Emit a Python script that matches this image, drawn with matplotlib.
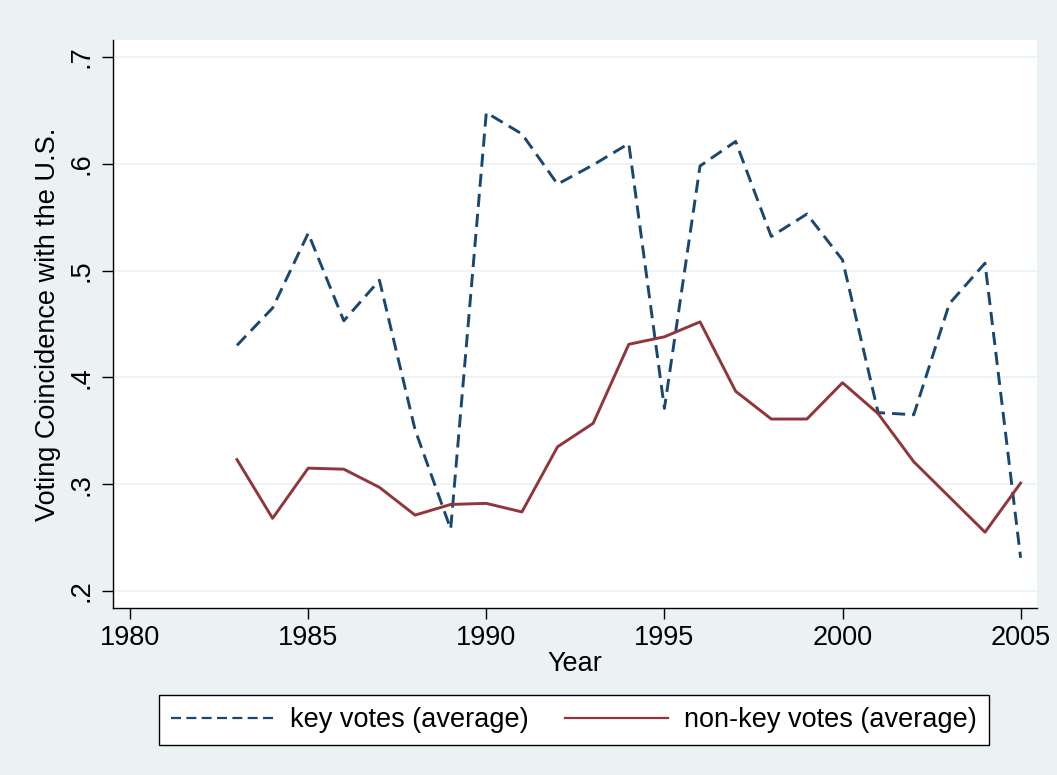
import matplotlib
matplotlib.use("Agg")
import matplotlib.pyplot as plt

# valeurs
years = list(range(1983, 2006))
key_votes = [0.430, 0.465, 0.535, 0.453, 0.491, 0.351, 0.258, 0.648, 0.628, 0.581,
             0.599, 0.619, 0.371, 0.598, 0.621, 0.532, 0.553, 0.510, 0.367, 0.365,
             0.469, 0.507, 0.231]
nonkey_votes = [0.323, 0.268, 0.315, 0.314, 0.297, 0.271, 0.281, 0.282, 0.274, 0.335,
                0.357, 0.431, 0.438, 0.452, 0.387, 0.361, 0.361, 0.395, 0.366, 0.321,
                0.288, 0.255, 0.301]
xticks = [1980, 1985, 1990, 1995, 2000, 2005]
yticks = [0.2, 0.3, 0.4, 0.5, 0.6, 0.7]
ytick_labels = [".2", ".3", ".4", ".5", ".6", ".7"]

plt.rcParams["font.family"] = ["Liberation Sans", "DejaVu Sans"]

bg = "#EAF2F3"
navy = "#1A476F"
maroon = "#90353B"
fs = 19.5

fig = plt.figure(figsize=(10.57, 7.75), dpi=100, facecolor=bg)
ax = fig.add_axes([113 / 1057, 1 - 608 / 775, (1037 - 113) / 1057, (608 - 40) / 775])
ax.set_facecolor("white")

ax.plot(years, key_votes, color=navy, lw=2.1, dashes=(4.5, 2.4), label="key votes (average)")
ax.plot(years, nonkey_votes, color=maroon, lw=2.1, label="non-key votes (average)")

ax.set_xlim(1979.52, 2005.46)
ax.set_ylim(0.184, 0.716)
ax.set_xticks(xticks)
ax.set_yticks(yticks)
ax.set_yticklabels(ytick_labels, rotation=90, va="center")
ax.tick_params(axis="both", labelsize=fs, length=8, width=1, direction="out")
ax.tick_params(axis="y", pad=5)
ax.tick_params(axis="x", pad=4)

ax.grid(axis="y", color=bg, lw=1.2)
ax.set_axisbelow(True)
for s in ["top", "right"]:
    ax.spines[s].set_visible(False)
ax.spines["left"].set_linewidth(1)
ax.spines["bottom"].set_linewidth(1)

ax.set_xlabel("Year", fontsize=fs, labelpad=0)
ax.set_ylabel("Voting Coincidence with the U.S.", fontsize=fs, labelpad=6)

leg = fig.legend(loc="center", bbox_to_anchor=(574 / 1057, 1 - 720 / 775), ncol=2,
                 fontsize=fs, frameon=True, fancybox=False, framealpha=1,
                 handlelength=3.8, columnspacing=1.35, handletextpad=0.6, borderpad=0.45)
leg.get_frame().set_edgecolor("black")
leg.get_frame().set_linewidth(1)
leg.get_frame().set_facecolor("white")
for h in leg.get_lines():
    h.set_linewidth(1.6)

fig.savefig("out.png", dpi=100, facecolor=bg)
